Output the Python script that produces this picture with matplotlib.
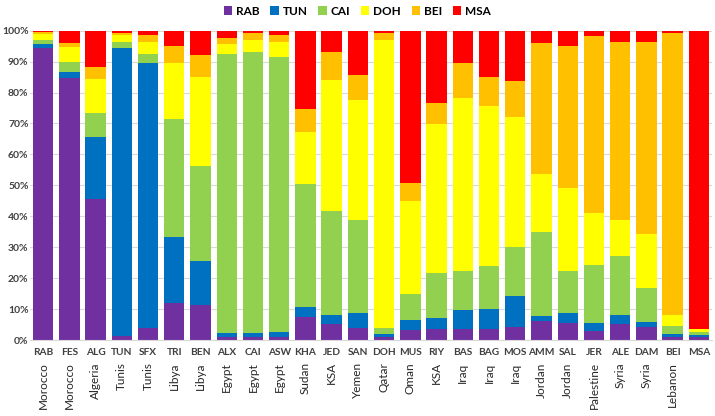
import numpy as np
import matplotlib.pyplot as plt

codes = ["RAB", "FES", "ALG", "TUN", "SFX", "TRI", "BEN", "ALX", "CAI", "ASW",
         "KHA", "JED", "SAN", "DOH", "MUS", "RIY", "BAS", "BAG", "MOS", "AMM",
         "SAL", "JER", "ALE", "DAM", "BEI", "MSA"]
countries = ["Morocco", "Morocco", "Algeria", "Tunis", "Tunis", "Libya", "Libya",
             "Egypt", "Egypt", "Egypt", "Sudan", "KSA", "Yemen", "Qatar", "Oman",
             "KSA", "Iraq", "Iraq", "Iraq", "Jordan", "Jordan", "Palestine",
             "Syria", "Syria", "Lebanon", ""]

series_names = ["RAB", "TUN", "CAI", "DOH", "BEI", "MSA"]
rab = [94.5, 84.6, 45.6, 1.3, 3.9, 12.0, 11.2, 1.1, 1.1, 1.1, 7.3, 5.1, 3.9,
       0.9, 3.2, 3.5, 3.5, 3.5, 4.1, 6.0, 5.6, 2.9, 5.3, 4.1, 1.1, 0.9]
tun = [1.3, 1.9, 20.0, 93.1, 85.6, 21.4, 14.5, 1.1, 1.1, 1.4, 3.4, 3.1, 4.8,
       1.0, 3.3, 3.5, 6.2, 6.4, 10.2, 1.8, 3.1, 2.7, 2.7, 1.6, 1.0, 0.8]
cai = [1.3, 3.4, 7.7, 1.9, 3.0, 38.2, 30.6, 90.3, 90.7, 88.9, 39.6, 33.5, 30.2,
       2.0, 8.5, 14.8, 12.6, 14.1, 15.7, 27.2, 13.7, 18.7, 19.0, 11.1, 2.4, 0.8]
doh = [1.8, 4.7, 11.2, 2.2, 3.9, 17.9, 28.8, 3.2, 4.1, 4.8, 16.8, 42.4, 38.8,
       93.2, 30.1, 48.1, 56.1, 51.7, 42.1, 18.6, 26.8, 16.8, 11.8, 17.4, 3.6, 1.0]
bei = [0.6, 1.3, 3.8, 0.9, 2.1, 5.6, 7.1, 1.8, 2.2, 2.2, 7.6, 8.9, 8.1,
       2.1, 5.8, 6.8, 11.2, 9.2, 11.7, 42.3, 45.9, 57.3, 57.5, 62.1, 91.3, 0.2]
msa = [0.5, 4.1, 11.7, 0.6, 1.5, 4.9, 7.8, 2.5, 0.7, 1.5, 25.3, 7.0, 14.2,
       0.8, 49.1, 23.3, 10.4, 15.1, 16.2, 4.1, 4.9, 1.6, 3.7, 3.7, 0.6, 96.3]

colors = ["#7030A0", "#0070C0", "#92D050", "#FFFF00", "#FFC000", "#FF0000"]

plt.rcParams['font.family'] = ['Lato', 'DejaVu Sans']

fig = plt.figure(figsize=(7.15, 4.16), dpi=100)
ax = fig.add_axes([30 / 715, 76 / 416, (712 - 30) / 715, 309.3 / 416])

data = np.array([rab, tun, cai, doh, bei, msa], dtype=float)
data = data / data.sum(axis=0) * 100
x = np.arange(len(codes))
bottom = np.zeros(len(codes))
for name, vals, c in zip(series_names, data, colors):
    ax.bar(x, vals, bottom=bottom, width=0.78, color=c, label=name, zorder=2)
    bottom += vals

ax.set_xlim(-0.5, len(codes) - 0.5)
ax.set_ylim(0, 100)
ax.set_yticks(np.arange(0, 101, 10))
ax.set_yticklabels([f"{v}%" for v in range(0, 101, 10)], fontsize=7.5,
                   fontweight='bold', color='#404040')
ax.set_xticks(x)
ax.set_xticklabels(codes, fontsize=7.3, fontweight='bold', color='#404040')
ax.tick_params(axis='both', length=0)
ax.tick_params(axis='x', pad=6)
ax.tick_params(axis='y', pad=1)
ax.grid(axis='y', color='#D9D9D9', linewidth=0.8, zorder=0)
for s in ['top', 'right', 'left']:
    ax.spines[s].set_visible(False)
ax.spines['bottom'].set_color('#D9D9D9')

for i, c in enumerate(countries):
    ax.text(i, -0.072, c, rotation=90, ha='center', va='top', fontsize=8.5,
            color='#262626', transform=ax.get_xaxis_transform())

fig.legend(loc='upper center', bbox_to_anchor=(0.5, 1.012), ncol=6,
           frameon=False, handlelength=0.7, handleheight=0.7,
           handletextpad=0.35, columnspacing=0.9,
           prop={'weight': 'bold', 'size': 8.5})

fig.savefig("out.png", dpi=100)
